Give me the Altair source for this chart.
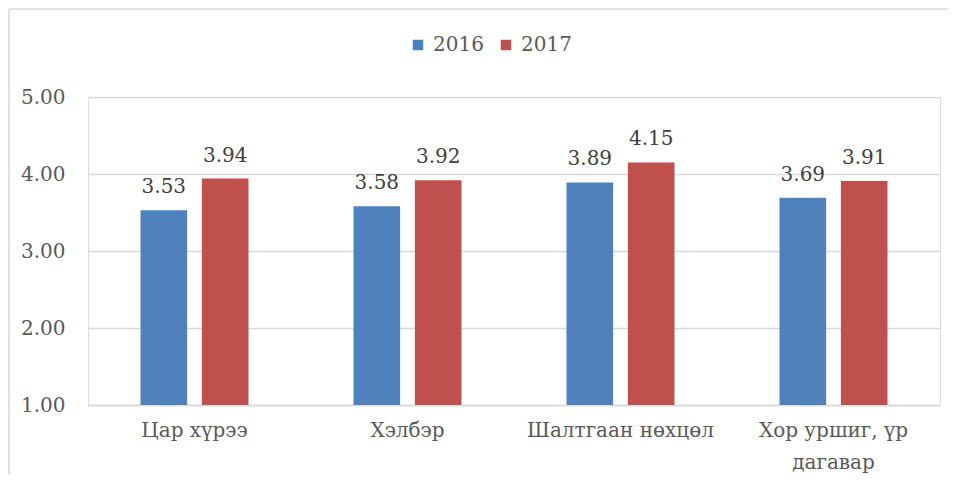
import altair as alt
import pandas as pd

categories = ["Цар хүрээ", "Хэлбэр", "Шалтгаан нөхцөл", "Хор уршиг, үр|дагавар"]
years = ["2016", "2017"]
values_2016 = [3.53, 3.58, 3.89, 3.69]
values_2017 = [3.94, 3.92, 4.15, 3.91]
y_ticks = [1, 2, 3, 4, 5]

rows = []
for c, a, b in zip(categories, values_2016, values_2017):
    rows.append({"cat": c, "year": "2016", "value": a})
    rows.append({"cat": c, "year": "2017", "value": b})
df = pd.DataFrame(rows)

FONT = "DejaVu Serif"
FS = 20
W, H = 852, 308
LEFT = 80

xscale = alt.Scale(domain=categories, paddingInner=0.493, paddingOuter=0.2465)
yscale = alt.Scale(domain=[1, 5], nice=False, zero=False)
color = alt.Color(
    "year:N",
    scale=alt.Scale(domain=years, range=["#4f81bd", "#c0504d"]),
    legend=alt.Legend(
        title=None, orient="none", legendX=320, legendY=-62, direction="horizontal",
        symbolType="square", symbolSize=110, symbolStrokeWidth=0,
        labelFont=FONT, labelFontSize=FS, labelColor="#595959",
        labelOffset=5, columnPadding=12, padding=0,
    ),
)

base = alt.Chart(df).encode(
    x=alt.X(
        "cat:N", scale=xscale, sort=categories, title=None,
        axis=alt.Axis(
            labelAngle=0, ticks=False, domain=True, domainColor="#d9d9d9", domainWidth=1.5,
            labelFont=FONT, labelFontSize=FS, labelColor="#595959", labelPadding=15,
            labelExpr="split(datum.label, '|')", labelLineHeight=32, labelLimit=400,
        ),
    ),
    xOffset=alt.XOffset("year:N", scale=alt.Scale(domain=years, paddingInner=0.24, paddingOuter=0)),
)

bars = base.mark_bar().encode(
    y=alt.Y(
        "value:Q", scale=yscale, title=None,
        axis=alt.Axis(
            values=y_ticks, format=".2f", ticks=False, domain=False,
            grid=True, gridColor="#d9d9d9", gridWidth=1.5,
            labelFont=FONT, labelFontSize=FS, labelColor="#595959", labelPadding=23,
        ),
    ),
    y2=alt.datum(1),
    color=color,
)

labels = base.mark_text(
    font=FONT, fontSize=FS, color="#404040", baseline="alphabetic", dy=-17
).encode(
    y=alt.Y("value:Q", scale=yscale),
    text=alt.Text("value:Q", format=".2f"),
)

frame_v = alt.Chart(pd.DataFrame({"k": [0]})).mark_rule(color="#d9d9d9", strokeWidth=1.5).encode(
    x=alt.value(-LEFT + 1), y=alt.value(-88), y2=alt.value(H + 80)
)
frame_h = alt.Chart(pd.DataFrame({"k": [0]})).mark_rule(color="#d9d9d9", strokeWidth=1.5).encode(
    x=alt.value(-LEFT + 1), x2=alt.value(W + 20), y=alt.value(-88)
)

chart = (
    alt.layer(frame_v, frame_h, bars, labels)
    .properties(
        width=W, height=H,
        padding={"left": LEFT, "top": 89, "right": 8, "bottom": 70},
        autosize=alt.AutoSizeParams(type="none"),
    )
    .configure_view(stroke=None)
    .configure(background="white", font=FONT)
)

chart.save("out.html", embed_options={"renderer": "svg", "actions": False})
